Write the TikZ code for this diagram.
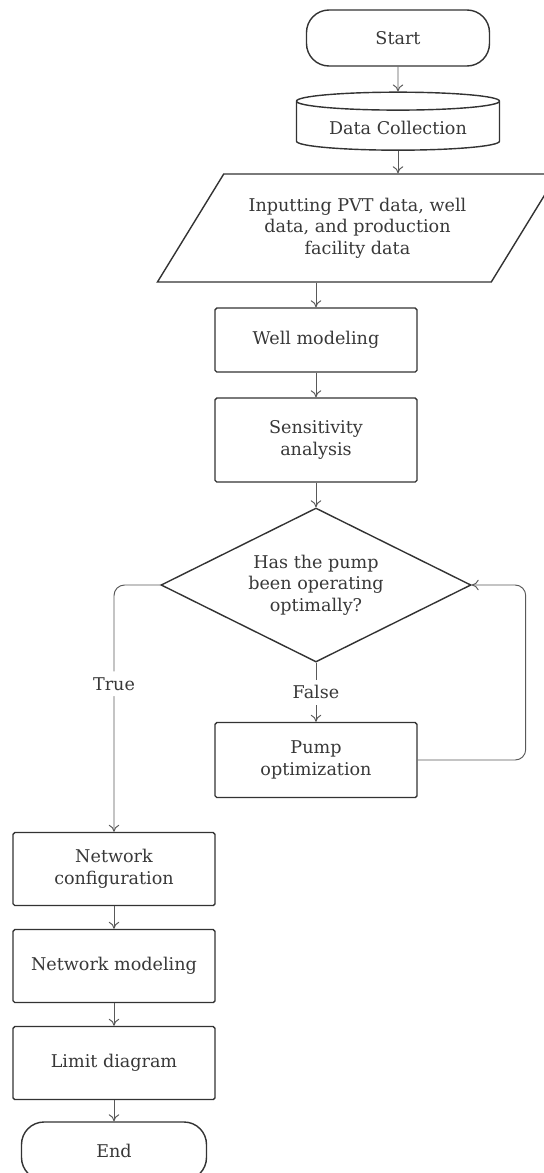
\documentclass[tikz,border=0pt]{standalone}
\usepackage{fontspec}
\setmainfont{DejaVu Serif}
\usetikzlibrary{shapes.geometric, arrows.meta, positioning}
\tikzset{
	charttext/.style={font=\fontsize{10}{12.3}\selectfont, text=black!78}
}

\begin{document}
\begin{tikzpicture}[>={To[length=4pt,width=6pt]}, box/.style={draw=black!80, line width=0.8pt, rounded corners=1pt, charttext, align=center, minimum width=4.04cm}, term/.style={box, rounded corners=0.45cm}, line/.style={draw=black!65, line width=0.55pt, ->}]
      \useasboundingbox (0,0) rectangle (10.88,-23.46);
      \node[term, minimum width=3.66cm, minimum height=1.12cm] (start) at (7.96,-0.76) {Start};
      \node[draw=black!80, line width=0.8pt, charttext, cylinder, shape border rotate=90, aspect=0.12, minimum width=4.06cm, minimum height=1.16cm] (data) at (7.96,-2.55) {Data Collection};
      \node[draw=black!80, line width=0.8pt, charttext, align=center, trapezium, trapezium left angle=51.8, trapezium right angle=128.2, trapezium stretches=true, minimum width=8.02cm, minimum height=2.16cm] (para) at (7.15,-4.56) {Inputting PVT data, well\\ data, and production\\ facility data};
      \node[box, minimum height=1.28cm] (well) at (6.32,-6.8) {Well modeling};
      \node[box, minimum height=1.68cm] (sens) at (6.32,-8.8) {Sensitivity\\ analysis};
      \node[draw=black!80, line width=0.8pt, charttext, align=center, diamond, aspect=2, inner sep=0pt, minimum width=6.2cm, minimum height=3.08cm] (dec) at (6.32,-11.7) {Has the pump\\ been operating\\ optimally?};
      \node[box, minimum height=1.5cm] (pump) at (6.32,-15.2) {Pump\\ optimization};
      \node[box, minimum height=1.46cm] (netconf) at (2.28,-17.38) {Network\\ configuration};
      \node[box, minimum height=1.46cm] (netmod) at (2.28,-19.32) {Network modeling};
      \node[box, minimum height=1.46cm] (limit) at (2.28,-21.26) {Limit diagram};
      \node[term, minimum width=3.7cm, minimum height=1.16cm] (end) at (2.28,-23.02) {End};

      \draw[line] (start) -- (data);
      \draw[line] (data.south) -- (data.south |- para.north);
      \draw[line] (well.north |- para.south) -- (well);
      \draw[line] (well) -- (sens);
      \draw[line] (sens) -- (dec);
      \draw[line] (dec) -- (pump) node[midway, fill=white, charttext] (falselbl) {False};
      % loop back when the pump is not optimal
      \draw[line, rounded corners=6pt] (pump.east) -- ++(2.16,0) |- (dec.east);
      \draw[line, rounded corners=6pt] (dec.west) -| (netconf.north) node[pos=0.7, fill=white, charttext] (truelbl) {True};
      \draw[line] (netconf) -- (netmod);
      \draw[line] (netmod) -- (limit);
      \draw[line] (limit) -- (end);
    \end{tikzpicture}
\end{document}
